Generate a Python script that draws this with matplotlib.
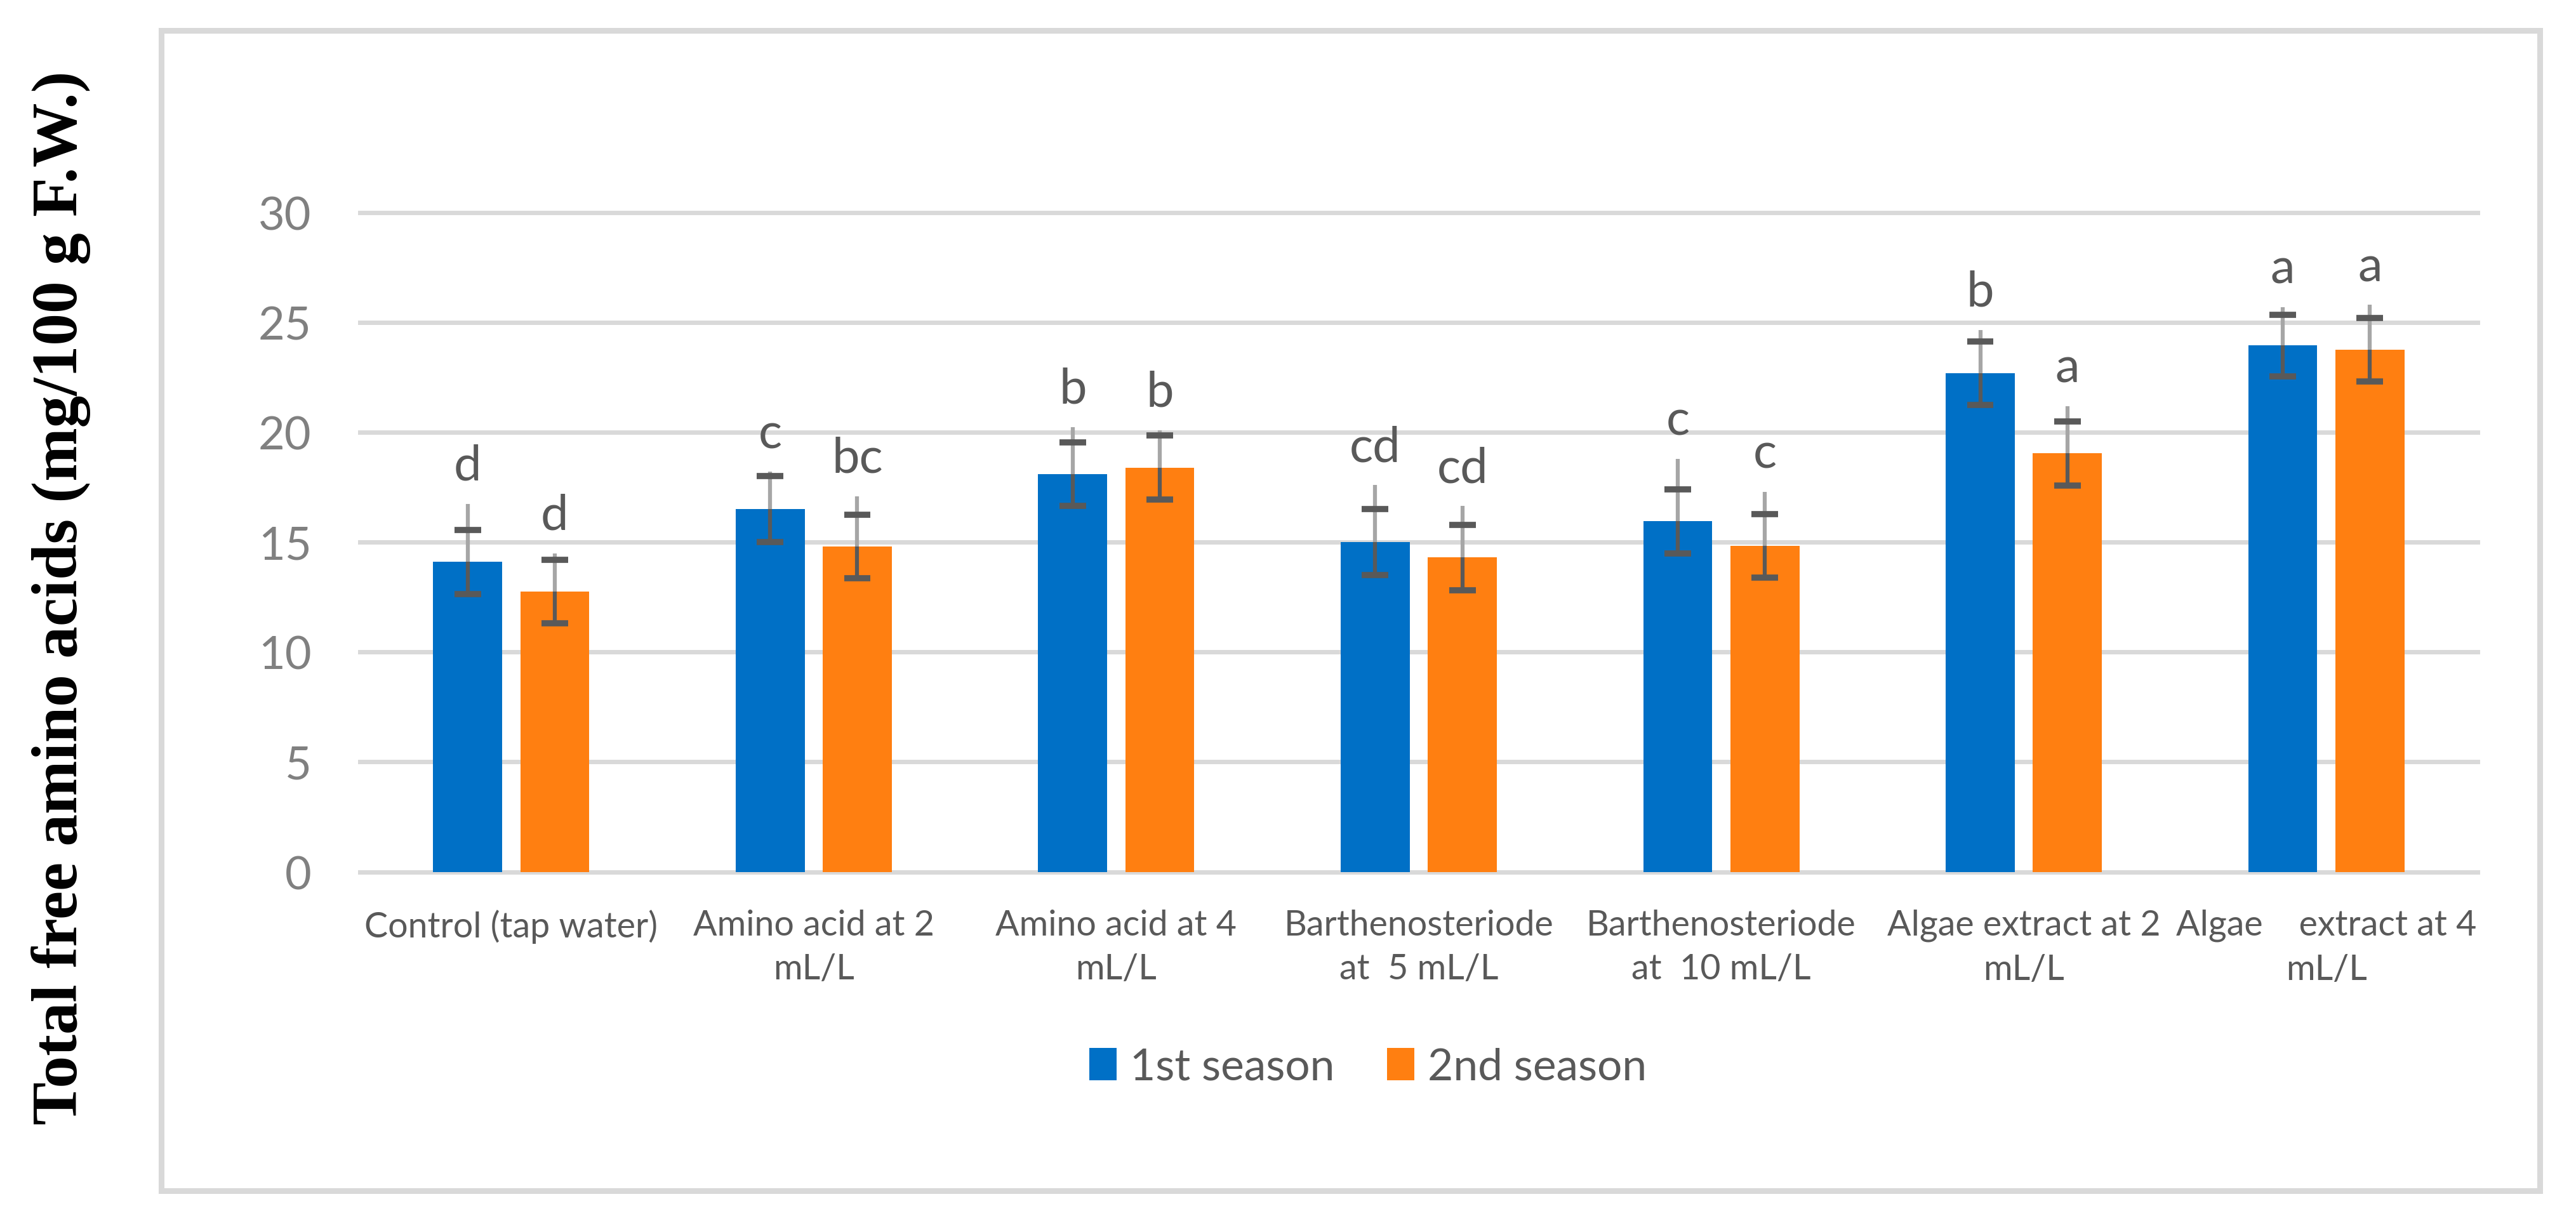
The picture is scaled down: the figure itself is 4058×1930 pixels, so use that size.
import matplotlib
matplotlib.use('Agg')
import matplotlib.pyplot as plt
from matplotlib.patches import Rectangle
import numpy as np

# data
categories = ['Control (tap water)', 'Amino acid at 2\nmL/L', 'Amino acid at 4\nmL/L',
              'Barthenosteriode\nat  5 mL/L', 'Barthenosteriode\nat  10 mL/L',
              'Algae extract at 2\nmL/L', 'Algae    extract at 4\nmL/L']
season1 = [14.1, 16.5, 18.1, 15.0, 15.95, 22.7, 23.95]
season1_err = [1.45, 1.5, 1.45, 1.5, 1.45, 1.45, 1.4]
season1_top = [16.75, 18.2, 20.25, 17.6, 18.8, 24.66, 25.7]
season1_letters = ['d', 'c', 'b', 'cd', 'c', 'b', 'a']
season2 = [12.76, 14.8, 18.4, 14.3, 14.83, 19.04, 23.76]
season2_err = [1.45, 1.45, 1.45, 1.5, 1.45, 1.45, 1.45]
season2_top = [14.5, 17.1, 20.1, 16.65, 17.3, 21.2, 25.8]
season2_letters = ['d', 'bc', 'b', 'cd', 'c', 'a', 'a']
series_names = ['1st season', '2nd season']
yticks = [0, 5, 10, 15, 20, 25, 30]

SANS = 'Lato'
BLUE = '#0070c6'
ORANGE = '#ff7f11'
DARK = '#595959'
LIGHT = '#a6a6a6'
GRID = '#d9d9d9'

W, H = 4058, 1931
fig = plt.figure(figsize=(W / 100, H / 100), dpi=100)
ax = fig.add_axes([567 / W, 1 - 1374.5 / H, (3903 - 567) / W, (1374.5 - 336) / H])

x = np.arange(len(categories))
bw = 0.228
off = 0.144
ax.bar(x - off, season1, bw, color=BLUE, label=series_names[0], zorder=2)
ax.bar(x + off, season2, bw, color=ORANGE, label=series_names[1], zorder=2)

# error bars: dark part inside the bar, light grey whisker above
cap = 0.088
for xs, vals, errs, tops, letters in [(x - off, season1, season1_err, season1_top, season1_letters),
                                      (x + off, season2, season2_err, season2_top, season2_letters)]:
    vals = np.array(vals)
    errs = np.array(errs)
    tops = np.array(tops)
    ax.vlines(xs, vals - errs, vals, color=DARK, lw=4.5, zorder=3)
    ax.vlines(xs, vals, tops, color=LIGHT, lw=4.5, zorder=3)
    ax.hlines(vals + errs, xs - cap / 2, xs + cap / 2, color=DARK, lw=7, zorder=4)
    ax.hlines(vals - errs, xs - cap / 2, xs + cap / 2, color=DARK, lw=7, zorder=4)
    for xi, t, lab in zip(xs, tops, letters):
        ax.text(xi, t + 1.1, lab, ha='center', va='baseline', fontsize=56, color=DARK, family=SANS)

ax.set_xlim(-0.5, len(categories) - 0.5)
ax.set_ylim(0, 30)
ax.set_yticks(yticks)
ax.set_xticks(x)
ax.set_xticklabels(categories, fontsize=40, color=DARK, linespacing=1.45, family=SANS)
for t in ax.get_yticklabels():
    t.set_fontsize(52)
    t.set_color('#808080')
    t.set_fontfamily(SANS)
ax.tick_params(axis='y', length=0, pad=55)
ax.tick_params(axis='x', length=0, pad=42)
ax.yaxis.grid(True, color=GRID, lw=5)
for gl in ax.get_ygridlines():
    gl.set_clip_on(False)
ax.set_axisbelow(True)
for s in ax.spines.values():
    s.set_visible(False)

fig.legend(loc='center', bbox_to_anchor=(2155 / W, 1 - 1682 / H), ncol=2, frameon=False,
           prop=dict(size=50, family=SANS), labelcolor=DARK, handlelength=0.62, handleheight=0.75,
           handletextpad=0.3, columnspacing=1.2)

fig.text(96 / W, 1 - 942 / H, 'Total free amino acids (mg/100 g F.W.)', rotation=90,
         ha='center', va='center', fontsize=73, fontweight='bold', family='Liberation Serif')

fig.patches.append(Rectangle((254 / W, 1 - 1877 / H), (4001 - 254) / W, (1877 - 49) / H,
                             transform=fig.transFigure, fill=False, ec=GRID, lw=6.5))

fig.savefig('out.png', dpi=100)
